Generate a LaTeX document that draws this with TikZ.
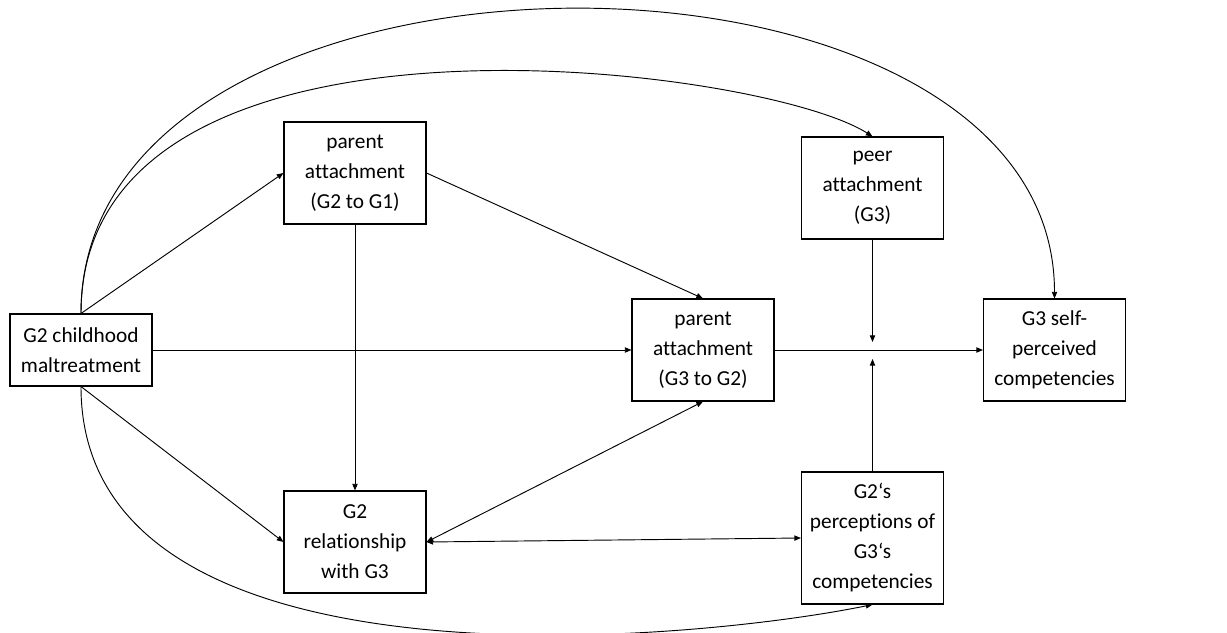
\documentclass[tikz,border=0pt]{standalone}
\usepackage{fontspec}
\setmainfont{Carlito}[Ligatures={NoCommon}]
\usetikzlibrary{arrows.meta}
\begin{document}
\begin{tikzpicture}[x=0.75pt, y=-0.75pt]
\tikzset{boite/.style={draw, rectangle, align=center, line width=0.8pt, minimum width=106.5pt, minimum height=76.5pt, inner sep=2pt, font=\fontsize{16}{22.5}\selectfont}}
\tikzset{fleche/.style={-{Triangle[length=5pt, width=4pt]}, line width=0.7pt}}
\tikzset{fleches/.style={{Triangle[length=5pt, width=4pt]}-{Triangle[length=5pt, width=4pt]}, line width=0.7pt}}
\useasboundingbox (0,0) rectangle (1227,632);
\node[boite, minimum height=54pt] (M) at (81,350) {G2 childhood\\maltreatment};
\node[boite] (PA1) at (355,173) {parent\\attachment\\(G2 to G1)};
\node[boite] (PP) at (872.5,188) {peer\\attachment\\(G3)};
\node[boite] (PA2) at (703,350) {parent\\attachment\\(G3 to G2)};
\node[boite] (SC) at (1054.5,350) {G3 self-\\perceived\\competencies};
\node[boite] (REL) at (355,542) {G2\\relationship\\with G3};
\node[boite, minimum height=99pt] (PER) at (872.5,538) {G2‘s\\perceptions of\\G3‘s\\competencies};
\coordinate (H) at (872.5,342);
\coordinate (B) at (872.5,359);
\draw[fleche] (M.north) -- (PA1.west);
\draw[fleche] (M.east) -- (PA2.west);
\draw[fleche] (M.south) -- (REL.west);
\draw[fleche] (PA1.south) -- (REL.north);
\draw[fleche] (PA1.east) -- (PA2.north);
\draw[fleches] (REL.east) -- (PA2.south);
\draw[fleches] (REL.east) -- (PER.west);
\draw[fleche] (PA2.east) -- (SC.west);
\draw[fleche] (PP.south) -- (H);
\draw[fleche] (PER.north) -- (B);
\draw[fleche] (M.north) .. controls (81,-90) and (1054.5,-90) .. (SC.north);
\draw[fleche] (M.north) .. controls (81,-20) and (760,65) .. (PP.north);
\draw[fleche] (M.south) .. controls (81,704) and (700,640) .. (PER.south);
\end{tikzpicture}
\end{document}
